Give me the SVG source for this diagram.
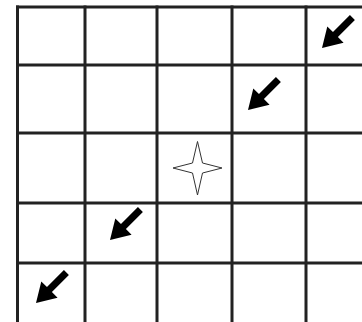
<svg xmlns="http://www.w3.org/2000/svg" width="362" height="322" viewBox="0 0 362 322">
  <style>
    .grid line { stroke: #222; stroke-width: 3; }
    .arrow { fill: #000; }
    .star { fill: #fff; stroke: #333; stroke-width: 1; }
  </style>
  <defs>
    <polygon id="arrowShape" class="arrow" points="-43,-3.5 -19,-3.5 -19,-11.5 0,0 -19,11.5 -19,3.5 -43,3.5"/>
  </defs>
  <rect width="362" height="322" fill="#fff"/>
  <g id="grid" class="grid">
    <line x1="17.5" y1="5.5" x2="17.5" y2="322"/>
    <line x1="85" y1="5.5" x2="85" y2="322"/>
    <line x1="157" y1="5.5" x2="157" y2="322"/>
    <line x1="232" y1="5.5" x2="232" y2="322"/>
    <line x1="306" y1="5.5" x2="306" y2="322"/>
    <line x1="16" y1="7" x2="362" y2="7"/>
    <line x1="16" y1="65" x2="362" y2="65"/>
    <line x1="16" y1="133" x2="362" y2="133"/>
    <line x1="16" y1="203" x2="362" y2="203"/>
    <line x1="16" y1="263" x2="362" y2="263"/>
  </g>
  <g id="arrow-r0c4"><use href="#arrowShape" transform="translate(322,48) rotate(135)"/></g>
  <g id="arrow-r1c3"><use href="#arrowShape" transform="translate(248,110) rotate(135)"/></g>
  <g id="star-r2c2"><polygon class="star" points="197.5,141.5 202.5,163 222,168 202.5,173 197.5,195 192.5,173 173,168 192.5,163"/></g>
  <g id="arrow-r3c1"><use href="#arrowShape" transform="translate(110,240) rotate(135)"/></g>
  <g id="arrow-r4c0"><use href="#arrowShape" transform="translate(36,303) rotate(135)"/></g>
</svg>
